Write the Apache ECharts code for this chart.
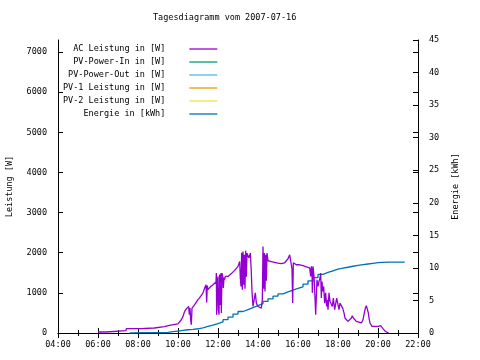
<!DOCTYPE html>
<html><head><meta charset="utf-8">
<script src="https://cdn.jsdelivr.net/npm/echarts@6/dist/echarts.min.js"></script>
<style>html,body{margin:0;padding:0;background:#fff}#c{width:480px;height:360px}</style>
</head><body><div id="c"></div>
<script>
const chartTitle = 'Tagesdiagramm vom 2007-07-16';
const leftAxisName = 'Leistung [W]';
const rightAxisName = 'Energie [kWh]';
const seriesNames = ['AC Leistung in [W]','PV-Power-In in [W]','PV-Power-Out in [W]','PV-1 Leistung in [W]','PV-2 Leistung in [W]','Energie in [kWh]'];
const seriesColors = ['#9400d3','#009e73','#56b4e9','#e69f00','#f0e442','#0072b2'];

const acTimes = ['06:00','06:24','06:25','07:24','07:25','08:09','08:10','08:49','08:50','09:19','09:20','09:34','09:35','10:00','10:05','10:10','10:15','10:20','10:25','10:30','10:32','10:34','10:36','10:38','10:40','10:42','10:45','10:50','11:00','11:05','11:10','11:15','11:20','11:22','11:24','11:26','11:28','11:30','11:33','11:37','11:40','11:45','11:50','11:54','11:55','11:56','11:58','12:00','12:01','12:03','12:05','12:07','12:09','12:10','12:12','12:14','12:16','12:18','12:20','12:22','12:25','12:30','12:35','12:40','12:45','12:50','12:55','13:00','13:05','13:07','13:09','13:11','13:13','13:15','13:17','13:19','13:21','13:23','13:25','13:27','13:30','13:33','13:37','13:40','13:42','13:45','13:48','13:50','13:52','13:55','14:00','14:05','14:10','14:13','14:15','14:17','14:19','14:21','14:23','14:25','14:27','14:30','14:35','14:40','14:45','15:00','15:10','15:20','15:25','15:30','15:35','15:40','15:42','15:44','15:46','15:50','15:55','16:05','16:15','16:20','16:25','16:30','16:35','16:38','16:40','16:42','16:43','16:45','16:48','16:50','16:53','16:55','16:57','17:00','17:03','17:06','17:08','17:10','17:12','17:14','17:17','17:20','17:23','17:26','17:28','17:30','17:33','17:36','17:40','17:43','17:46','17:50','17:53','17:56','18:00','18:03','18:06','18:10','18:14','18:18','18:21','18:25','18:30','18:35','18:40','18:43','18:46','18:50','18:55','19:00','19:10','19:15','19:18','19:22','19:25','19:27','19:29','19:31','19:33','19:36','19:38','19:42','20:00','20:05','20:08','20:12','20:15','20:18','20:22','20:28','20:32'];
const acValues = [25,25,57,57,107,107,125,125,157,157,190,190,215,225,230,330,415,540,600,640,660,455,620,330,207,620,660,705,830,880,940,1000,1120,1160,1200,760,1180,1080,1120,1150,1160,1200,1245,1270,1495,455,1300,1410,600,455,1460,700,1495,500,1495,1400,1120,1380,1330,1410,1430,1410,1440,1480,1520,1560,1600,1660,1780,1370,1160,2000,1080,2030,1200,1950,1100,2050,1400,1990,2030,1870,1990,1495,1035,660,700,705,1000,745,660,680,620,830,2155,1100,1990,1035,1950,1300,1990,1800,1825,1780,1740,1740,1730,1750,1780,1850,1950,1990,1600,745,1750,1720,1700,1700,1680,1660,1650,1640,1620,1410,1660,1535,1000,1660,1410,1080,455,500,1327,1160,1285,1370,1495,870,1285,1035,1160,745,1000,660,830,580,1000,790,745,660,870,580,620,870,705,580,745,745,620,500,373,330,290,330,373,430,373,373,290,250,250,330,455,620,680,720,640,500,373,250,207,165,165,180,182,140,110,82,40,25,0];

const energyTimes = ['07:35','07:45','08:15','08:45','09:15','09:30','09:45','10:00','10:15','10:30','10:45','11:00','11:15','11:30','11:45','12:00','12:15','12:30','12:45','13:00','13:15','13:30','13:45','14:00','14:15','14:30','14:45','15:00','15:15','15:30','15:45','16:00','16:15','16:30','16:45','17:00','17:15','17:30','17:45','18:00','18:15','18:30','18:45','19:00','19:15','19:30','19:45','20:00','20:15','20:30','21:20'];
const energyValues = [0,0.05,0.05,0.05,0.1,0.2,0.3,0.4,0.5,0.55,0.65,0.8,1.0,1.2,1.45,1.7,2.05,2.45,2.9,3.3,3.6,3.9,4.2,4.5,4.85,5.25,5.65,6.0,6.3,6.6,6.85,7.1,7.5,8.0,8.5,9.0,9.3,9.55,9.8,9.95,10.1,10.25,10.4,10.5,10.6,10.7,10.8,10.85,10.9,10.9,10.9];

const xMin = 4, xMax = 22, xStep = 2;
const leftMax = 7300, leftStep = 1000;
const rightMax = 45, rightStep = 5;

function toHours(s){ const p = s.split(':'); return +p[0] + (+p[1])/60; }
function pairs(ts, vs){ return ts.map((t,i)=>[toHours(t), vs[i]]); }
function fmtHour(v){ return (v<10?'0':'')+v+':00'; }
function fmtPlain(v){ return String(v); }

const FONT = 'DejaVu Sans Mono';
const FS = 8.5;
const txt = {fontFamily: FONT, fontSize: FS, color: '#000'};

const chart = echarts.init(document.getElementById('c'), null, {renderer:'canvas'});
const series = seriesNames.map((n,i)=>{
  const s = {name:n, type:'line', symbol:'none', color: seriesColors[i],
    lineStyle:{width:1.3, color: seriesColors[i]}, animation:false, data: []};
  if (i===0) { s.data = pairs(acTimes, acValues); s.xAxisIndex=0; s.yAxisIndex=0; s.z=3; }
  else if (i===5) { s.data = pairs(energyTimes, energyValues); s.yAxisIndex=1; s.step='end'; s.z=2; }
  else { s.yAxisIndex=0; }
  return s;
});

const tickCommon = {show:true, inside:true, length:5, lineStyle:{color:'#000', width:1}};
const lineCommon = {show:true, lineStyle:{color:'#000', width:1}};

chart.setOption({
  animation:false,
  backgroundColor:'#fff',
  title:{text: chartTitle, left:153, top:13, padding:0,
    textStyle:{fontFamily:FONT, fontSize:FS, fontWeight:'normal', color:'#000'}},
  legend:{orient:'vertical', left:63, top:44, padding:0, align:'right',
    itemWidth:28, itemHeight:10, itemGap:3, data: seriesNames,
    itemStyle:{opacity:0},
    textStyle:{fontFamily:FONT, fontSize:FS, color:'#000', lineHeight:10, padding:[0,19,0,0]},
    lineStyle:{width:1.3}},
  grid:{left:58, right:62, top:40, bottom:27, containLabel:false, outerBoundsMode:'none'},
  xAxis:[
    {type:'value', min:xMin, max:xMax, interval:xStep, position:'bottom',
     axisLine:lineCommon, axisTick:tickCommon,
     minorTick:{show:true, splitNumber:2, length:3, lineStyle:{color:'#000'}},
     splitLine:{show:false}, minorSplitLine:{show:false},
     axisLabel:Object.assign({margin:7, formatter:fmtHour}, txt)},
    {type:'value', min:xMin, max:xMax, interval:xStep, position:'top',
     axisLine:lineCommon, axisTick:tickCommon,
     minorTick:{show:true, splitNumber:2, length:3, lineStyle:{color:'#000'}},
     splitLine:{show:false}, axisLabel:{show:false}}
  ],
  yAxis:[
    {type:'value', min:0, max:leftMax, interval:leftStep, position:'left',
     axisLine:lineCommon, axisTick:tickCommon, splitLine:{show:false},
     axisLabel:Object.assign({margin:11, showMaxLabel:false, formatter:fmtPlain}, txt),
     name:leftAxisName, nameLocation:'middle', nameRotate:90, nameGap:44,
     nameTextStyle:txt},
    {type:'value', min:0, max:rightMax, interval:rightStep, position:'right',
     axisLine:lineCommon, axisTick:tickCommon, splitLine:{show:false},
     axisLabel:Object.assign({margin:11, formatter:fmtPlain}, txt),
     name:rightAxisName, nameLocation:'middle', nameRotate:90, nameGap:33,
     nameTextStyle:txt},
    {type:'value', min:0, max:leftMax, interval:leftStep, position:'right',
     axisLine:{show:false}, axisTick:tickCommon, splitLine:{show:false},
     axisLabel:{show:false}}
  ],
  series: series
});
</script></body></html>
